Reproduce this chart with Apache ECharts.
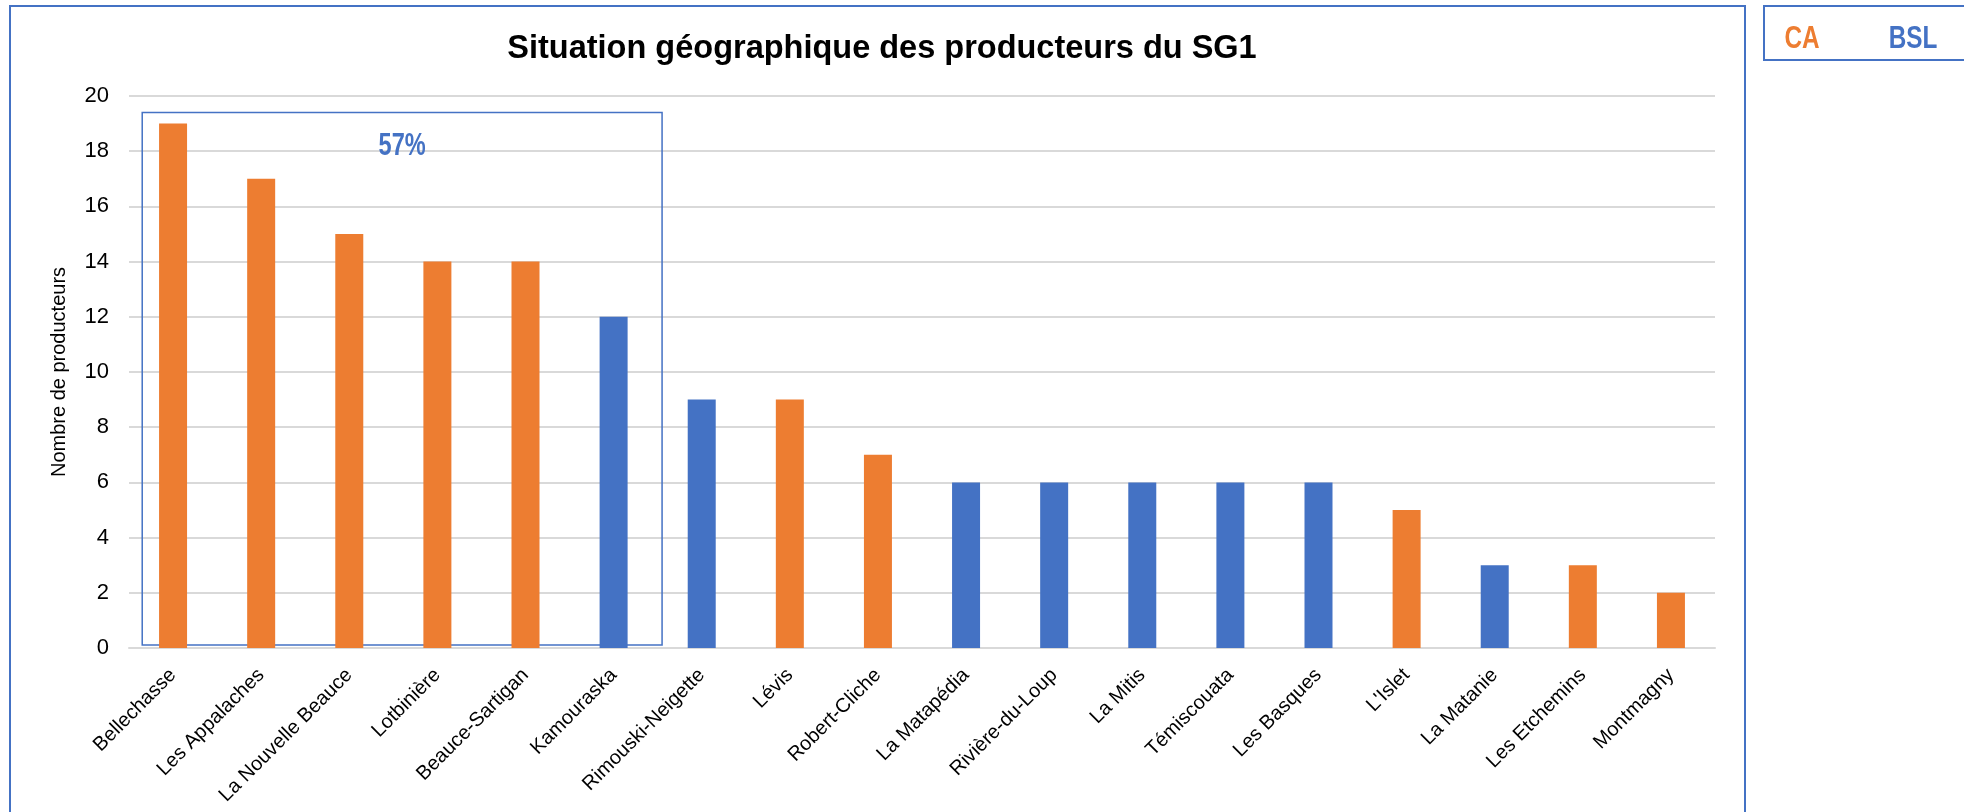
<!DOCTYPE html>
<html>
<head>
<meta charset="utf-8">
<script src="https://cdn.jsdelivr.net/npm/echarts@6/dist/echarts.min.js"></script>
<style>
  html, body { margin: 0; padding: 0; background: #fff; }
  #main { width: 1964px; height: 812px; }
</style>
</head>
<body>
<div id="main"></div>
<script>
// données
const categories = ['Bellechasse', 'Les Appalaches', 'La Nouvelle Beauce', 'Lotbinière', 'Beauce-Sartigan',
  'Kamouraska', 'Rimouski-Neigette', 'Lévis', 'Robert-Cliche', 'La Matapédia', 'Rivière-du-Loup',
  'La Mitis', 'Témiscouata', 'Les Basques', "L'Islet", 'La Matanie', 'Les Etchemins', 'Montmagny']
const producteurs = [19, 17, 15, 14, 14, 12, 9, 9, 7, 6, 6, 6, 6, 6, 5, 3, 3, 2]
const regions = ['CA', 'CA', 'CA', 'CA', 'CA', 'BSL', 'BSL', 'CA', 'CA', 'BSL', 'BSL',
  'BSL', 'BSL', 'BSL', 'CA', 'BSL', 'CA', 'CA']
const regionNames = ['CA', 'BSL']
const yTicks = [0, 20, 2] // min, max, pas
// encadré "57%"
const boxLabel = '57%'
const boxFrom = 'Bellechasse'
const boxTo = 'Kamouraska'
const boxTop = 19.4

const colors = { CA: '#ED7D31', BSL: '#4472C4' }
const sans = '"Liberation Sans", Arial, sans-serif'

var chartDom = document.getElementById('main');
var myChart = echarts.init(chartDom);
var option;

option = {
  animation: false,
  title: {
    text: 'Situation géographique des producteurs du SG1',
    left: 877,
    textAlign: 'center',
    top: 28,
    textStyle: { fontFamily: sans, fontSize: 32.5, fontWeight: 'bold', color: '#000' }
  },
  grid: { left: 129, right: 249, top: 96, bottom: 164 },
  xAxis: {
    type: 'category',
    data: categories,
    axisLine: { lineStyle: { color: '#d9d9d9', width: 2 } },
    axisTick: { show: false },
    axisLabel: {
      interval: 0,
      rotate: 45,
      margin: 24,
      fontFamily: sans,
      fontSize: 20,
      color: '#000'
    }
  },
  yAxis: {
    type: 'value',
    min: yTicks[0],
    max: yTicks[1],
    interval: yTicks[2],
    name: 'Nombre de producteurs',
    nameLocation: 'middle',
    nameGap: 60,
    nameTextStyle: { fontFamily: sans, fontSize: 20, color: '#000' },
    axisLabel: { fontFamily: sans, fontSize: 22, color: '#000', margin: 20 },
    splitLine: { lineStyle: { color: '#d9d9d9', width: 2 } }
  },
  series: [
    {
      type: 'bar',
      barWidth: 28,
      data: producteurs.map((v, i) => {
        return { value: v, itemStyle: { color: colors[regions[i]] } }
      })
    }
  ]
};

myChart.setOption(option);

// texte étroit (Arial Narrow) : police normale compressée horizontalement
function narrowText(text, x, y, color, size) {
  return {
    type: 'text', x: x, y: y, scaleX: 0.76,
    style: { text: text, fill: color, font: 'bold ' + size + 'px ' + sans, textAlign: 'center', textVerticalAlign: 'middle' }
  }
}

// cadres et encadré, positionnés avec les échelles du graphique
const step = myChart.convertToPixel({ xAxisIndex: 0 }, categories[1]) - myChart.convertToPixel({ xAxisIndex: 0 }, categories[0])
const x0 = myChart.convertToPixel({ xAxisIndex: 0 }, boxFrom) - step * 0.35
const x1 = myChart.convertToPixel({ xAxisIndex: 0 }, boxTo) + step * 0.55
const y0 = myChart.convertToPixel({ yAxisIndex: 0 }, boxTop)
const y1 = myChart.convertToPixel({ yAxisIndex: 0 }, 0) - 3

myChart.setOption({
  graphic: [
    // cadre du graphique
    { type: 'rect', shape: { x: 10, y: 6, width: 1735, height: 820 }, style: { fill: 'none', stroke: '#4472C4', lineWidth: 2 } },
    // cadre de la légende
    { type: 'rect', shape: { x: 1764, y: 6, width: 220, height: 54 }, style: { fill: 'none', stroke: '#4472C4', lineWidth: 2 } },
    narrowText(regionNames[0], 1802, 39, colors.CA, 32),
    narrowText(regionNames[1], 1913, 39, colors.BSL, 32),
    // encadré 57%
    { type: 'rect', shape: { x: x0, y: y0, width: x1 - x0, height: y1 - y0 }, style: { fill: 'none', stroke: '#4472C4', lineWidth: 1.5 } },
    narrowText(boxLabel, (x0 + x1) / 2, 146, '#4472C4', 31)
  ]
});
</script>
</body>
</html>
